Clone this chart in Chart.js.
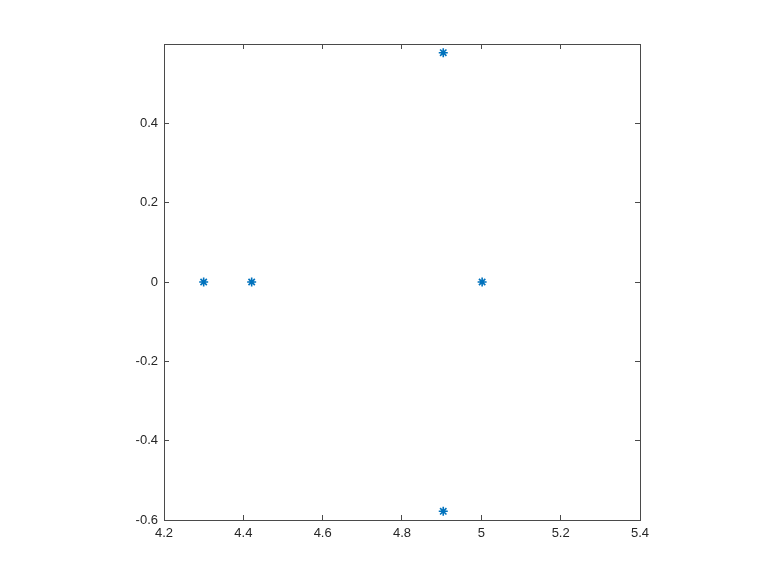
<!DOCTYPE html>
<html>
<head>
<meta charset="utf-8">
<script src="https://cdn.jsdelivr.net/npm/chart.js@4/dist/chart.umd.min.js"></script>
<style>
  html, body { margin: 0; padding: 0; background: #ffffff; }
  #wrap { width: 778px; height: 584px; }
</style>
</head>
<body>
<div id="wrap"><canvas id="c" width="778" height="584"></canvas></div>
<script>
const xValues = [4.3, 4.421, 4.904, 4.904, 5.002];
const yValues = [0, 0, 0.578, -0.578, 0];
const xTicks = [4.2, 4.4, 4.6, 4.8, 5.0, 5.2, 5.4];
const xTickLabels = ['4.2', '4.4', '4.6', '4.8', '5', '5.2', '5.4'];
const yTicks = [-0.6, -0.4, -0.2, 0, 0.2, 0.4];
const yTickLabels = ['-0.6', '-0.4', '-0.2', '0', '0.2', '0.4'];
const xRange = [4.2, 5.4];
const yRange = [-0.6, 0.6];

const points = xValues.map((x, i) => ({ x: x, y: yValues[i] }));

const axisColor = '#4a4a4a';
const textColor = '#262626';
const font = { family: 'Liberation Sans, Arial, sans-serif', size: 13 };

function setTicks(values) {
  return function (scale) {
    scale.ticks = values.map(v => ({ value: v }));
  };
}
function labelFrom(values, labels) {
  return function (value) {
    const i = values.findIndex(v => Math.abs(v - value) < 1e-9);
    return i >= 0 ? labels[i] : '';
  };
}

new Chart(document.getElementById('c'), {
  type: 'scatter',
  data: {
    datasets: [{
      data: points,
      pointStyle: 'star',
      radius: 4.5,
      hoverRadius: 4.5,
      borderWidth: 1.6,
      borderColor: '#0072BD',
      backgroundColor: '#0072BD'
    }]
  },
  options: {
    responsive: false,
    animation: false,
    events: [],
    layout: { padding: { left: 0, top: 44, right: 138, bottom: 0 } },
    plugins: { legend: { display: false }, tooltip: { enabled: false } },
    scales: {
      x: {
        type: 'linear', position: 'bottom',
        min: xRange[0], max: xRange[1],
        afterBuildTicks: setTicks(xTicks),
        afterFit: s => { s.height = 64; },
        grid: { drawOnChartArea: false, drawTicks: true, tickLength: -5, color: axisColor, lineWidth: 1 },
        border: { display: true, color: axisColor, width: 1 },
        ticks: { color: textColor, font: font, padding: 11, maxRotation: 0, autoSkip: false, callback: labelFrom(xTicks, xTickLabels) }
      },
      x2: {
        type: 'linear', position: 'top',
        min: xRange[0], max: xRange[1],
        afterBuildTicks: setTicks(xTicks),
        afterFit: s => { s.height = 0; },
        grid: { drawOnChartArea: false, drawTicks: true, tickLength: -5, color: axisColor, lineWidth: 1 },
        border: { display: true, color: axisColor, width: 1 },
        ticks: { display: false }
      },
      y: {
        type: 'linear', position: 'left',
        min: yRange[0], max: yRange[1],
        afterBuildTicks: setTicks(yTicks),
        afterFit: s => { s.width = 164; },
        grid: { drawOnChartArea: false, drawTicks: true, tickLength: -5, color: axisColor, lineWidth: 1 },
        border: { display: true, color: axisColor, width: 1 },
        ticks: { color: textColor, font: font, padding: 11, autoSkip: false, callback: labelFrom(yTicks, yTickLabels) }
      },
      y2: {
        type: 'linear', position: 'right',
        min: yRange[0], max: yRange[1],
        afterBuildTicks: setTicks(yTicks),
        afterFit: s => { s.width = 0; },
        grid: { drawOnChartArea: false, drawTicks: true, tickLength: -5, color: axisColor, lineWidth: 1 },
        border: { display: true, color: axisColor, width: 1 },
        ticks: { display: false }
      }
    }
  }
});
</script>
</body>
</html>
